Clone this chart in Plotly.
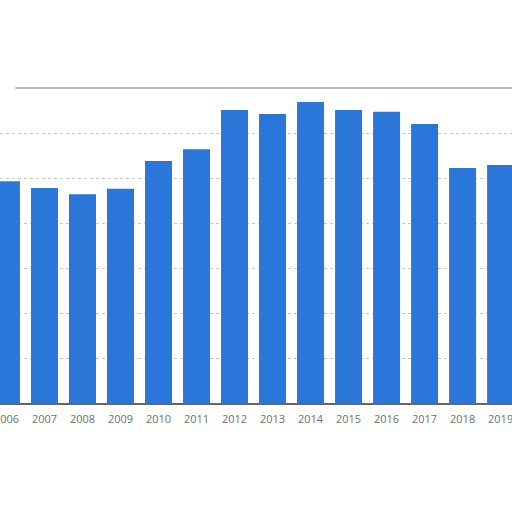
import plotly.graph_objects as go

# years and values (arbitrary units)
years = [2006, 2007, 2008, 2009, 2010, 2011, 2012, 2013, 2014, 2015, 2016, 2017, 2018, 2019]
values = [49.3, 47.8, 46.4, 47.6, 53.8, 56.4, 65.1, 64.2, 66.9, 65.1, 64.7, 62.0, 52.2, 52.9]
tick_text = [str(y) for y in years]

fig = go.Figure(go.Bar(
    x=years, y=values,
    width=0.71,
    marker=dict(color='#2a77d9', line=dict(width=0)),
))

fig.update_layout(
    width=512, height=512,
    margin=dict(l=0, r=0, t=88, b=109),
    paper_bgcolor='white', plot_bgcolor='white',
    showlegend=False,
    bargap=0.29,
    font=dict(family='Open Sans, DejaVu Sans, sans-serif', size=11, color='#707070'),
)
fig.update_xaxes(
    range=[2005.83, 2019.3], automargin=False,
    tickvals=years, ticktext=tick_text, ticklabeloverflow='allow',
    showgrid=False, showline=True, linecolor='#666', linewidth=1.5,
    ticks='outside', ticklen=5, tickcolor='rgba(0,0,0,0)',
)
fig.update_yaxes(
    range=[0, 70], dtick=10, automargin=False,
    showticklabels=False, zeroline=False,
    showgrid=True, gridcolor='#c8c8c8', griddash='dot', gridwidth=1,
)
# light frame line on top of the plot area
fig.add_shape(type='line', xref='paper', yref='paper', x0=0.03, x1=1, y0=1, y1=1,
              line=dict(color='#bbbbbb', width=2))

# drop the page's default body margin so the 512px figure fills the window
fig.write_html("out.html", config={'displayModeBar': False},
               post_script="document.body.style.margin='0';document.body.style.overflow='hidden';")
